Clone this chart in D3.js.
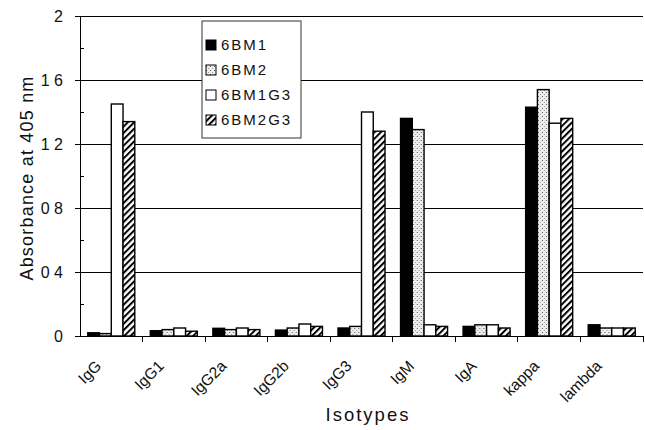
<!DOCTYPE html>
<html>
<head>
<meta charset="utf-8">
<script src="https://cdn.jsdelivr.net/npm/d3@7"></script>
<style>
  body { margin: 0; background: #fff; }
  text { font-family: "Liberation Sans", Arial, sans-serif; fill: #111; }
</style>
</head>
<body>
<div id="chart"></div>
<script>
const isotypes = ['IgG', 'IgG1', 'IgG2a', 'IgG2b', 'IgG3', 'IgM', 'IgA', 'kappa', 'lambda'];
const seriesNames = ['6BM1', '6BM2', '6BM1G3', '6BM2G3'];
const bm1   = [0.02, 0.033, 0.048, 0.037, 0.05, 1.36, 0.06, 1.43, 0.07];
const bm2   = [0.015, 0.04, 0.04, 0.05, 0.06, 1.29, 0.07, 1.54, 0.05];
const bm1g3 = [1.45, 0.05, 0.05, 0.075, 1.40, 0.07, 0.07, 1.33, 0.05];
const bm2g3 = [1.34, 0.03, 0.04, 0.06, 1.28, 0.06, 0.05, 1.36, 0.05];
const yTicks = [0, 0.4, 0.8, 1.2, 1.6, 2];
const yTickLabels = ['0', '0 4', '0 8', '1 2', '1 6', '2'];

const seriesValues = [bm1, bm2, bm1g3, bm2g3];

const W = 645, H = 430;
const margin = { top: 16, right: 2, bottom: 94, left: 80 },
      width = W - margin.left - margin.right,
      height = H - margin.top - margin.bottom;

let svg = d3.select('#chart')
            .append('svg')
              .attr('width', W)
              .attr('height', H);

// fill patterns
let defs = svg.append('defs');
let dots = defs.append('pattern')
  .attr('id', 'dots').attr('patternUnits', 'userSpaceOnUse')
  .attr('width', 4).attr('height', 4);
dots.append('rect').attr('width', 4).attr('height', 4).attr('fill', '#eee');
dots.append('rect').attr('x', 0).attr('y', 0).attr('width', 1).attr('height', 1).attr('fill', '#555');
dots.append('rect').attr('x', 2).attr('y', 2).attr('width', 1).attr('height', 1).attr('fill', '#999');

let hatch = defs.append('pattern')
  .attr('id', 'hatch').attr('patternUnits', 'userSpaceOnUse')
  .attr('width', 4.5).attr('height', 4.5)
  .attr('patternTransform', 'rotate(45)');
hatch.append('rect').attr('width', 4.5).attr('height', 4.5).attr('fill', '#fff');
hatch.append('line').attr('x1', 1).attr('y1', 0).attr('x2', 1).attr('y2', 4.5)
  .attr('stroke', '#000').attr('stroke-width', 2);

const fills = ['#000', 'url(#dots)', '#fff', 'url(#hatch)'];

let g = svg.append('g')
  .attr('transform', 'translate(' + margin.left + ',' + margin.top + ')');

let y = d3.scaleLinear().domain([0, 2]).range([height, 0]);
let x0 = d3.scaleBand().domain(isotypes).range([0, width]);
let x1 = d3.scaleBand().domain(seriesNames).range([0, x0.bandwidth()]).paddingOuter(0.66);

// gridlines
g.append('g')
  .selectAll('line')
  .data(yTicks.filter(d => d > 0))
  .join('line')
    .attr('x1', 0).attr('x2', width)
    .attr('y1', d => y(d)).attr('y2', d => y(d))
    .attr('stroke', '#000').attr('stroke-width', 1)
    .attr('shape-rendering', 'crispEdges');

// y axis
let yAxis = g.append('g')
  .call(d3.axisLeft(y).tickValues(yTicks).tickSize(5).tickPadding(12)
    .tickFormat((d, i) => yTickLabels[i]));
yAxis.select('.domain').attr('stroke', '#000').attr('shape-rendering', 'crispEdges');
yAxis.selectAll('line').attr('shape-rendering', 'crispEdges');
yAxis.selectAll('text').style('font-size', '16px').attr('fill', '#111');
// minor ticks inside
g.append('g')
  .selectAll('line')
  .data(d3.range(1, 10, 2).map(d => d * 0.2))
  .join('line')
    .attr('x1', 0).attr('x2', 4)
    .attr('y1', d => y(d)).attr('y2', d => y(d))
    .attr('stroke', '#000')
    .attr('shape-rendering', 'crispEdges');

// bars
let groups = g.append('g')
  .selectAll('g')
  .data(isotypes)
  .join('g')
    .attr('transform', d => 'translate(' + x0(d) + ',0)');
groups.selectAll('rect')
  .data((d, i) => seriesNames.map((s, j) => ({ s: s, j: j, v: seriesValues[j][i] })))
  .join('rect')
    .attr('x', d => x1(d.s))
    .attr('width', x1.bandwidth())
    .attr('y', d => y(d.v))
    .attr('height', d => y(0) - y(d.v))
    .attr('fill', d => fills[d.j])
    .attr('stroke', '#000')
    .attr('stroke-width', 1.4);

// x axis with ticks between categories
let xAxis = g.append('g').attr('transform', 'translate(0,' + height + ')');
xAxis.append('line').attr('x1', 0).attr('x2', width).attr('stroke', '#000')
  .attr('shape-rendering', 'crispEdges');
xAxis.selectAll('line.tick')
  .data(isotypes.slice(1).concat(['end']))
  .join('line')
    .attr('class', 'tick')
    .attr('x1', (d, i) => x0.step() * (i + 1)).attr('x2', (d, i) => x0.step() * (i + 1))
    .attr('y1', 0).attr('y2', 6)
    .attr('stroke', '#000')
    .attr('shape-rendering', 'crispEdges');
xAxis.selectAll('text')
  .data(isotypes)
  .join('text')
    .attr('transform', d => 'translate(' + (x0(d) + x0.bandwidth() / 2 - 9) + ',31) rotate(-45)')
    .attr('text-anchor', 'end')
    .style('font-size', '15.5px')
    .text(d => d);

// axis titles
svg.append('text')
  .attr('x', 368).attr('y', 421)
  .attr('text-anchor', 'middle')
  .style('font-size', '18.5px')
  .style('letter-spacing', '2px')
  .text('Isotypes');
svg.append('text')
  .attr('transform', 'translate(33,178) rotate(-90)')
  .attr('text-anchor', 'middle')
  .style('font-size', '18px')
  .style('letter-spacing', '1.2px')
  .text('Absorbance at 405 nm');

// legend
let legend = svg.append('g').attr('transform', 'translate(202,21)');
legend.append('rect')
  .attr('width', 99).attr('height', 117)
  .attr('fill', '#fff').attr('stroke', '#333');
let items = legend.selectAll('g.item')
  .data(seriesNames)
  .join('g')
    .attr('class', 'item')
    .attr('transform', (d, i) => 'translate(4,' + (24 + i * 25) + ')');
items.append('rect')
  .attr('x', 0).attr('y', -5).attr('width', 10).attr('height', 10)
  .attr('fill', (d, i) => fills[i]).attr('stroke', '#000');
items.append('text')
  .attr('x', 15).attr('dy', '0.36em')
  .style('font-size', '15px')
  .style('letter-spacing', '2px')
  .text(d => d);
</script>
</body>
</html>
